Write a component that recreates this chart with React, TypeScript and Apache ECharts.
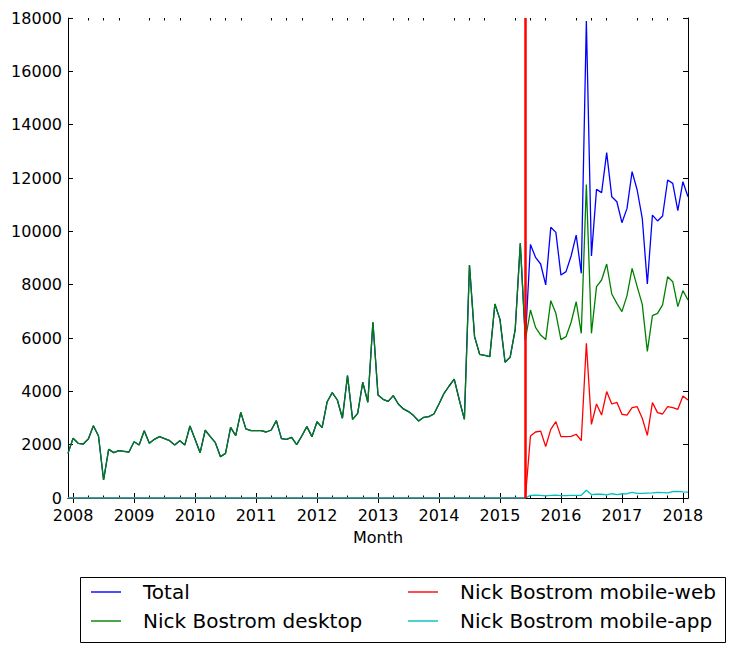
import React, { useEffect, useRef } from 'react';
import * as echarts from 'echarts';

// months from 2007-12 to 2018-02
const months: string[] = [];
for (let k = 0; k < 123; k++) {
  const t = 2007 * 12 + 11 + k;
  months.push(`${Math.floor(t / 12)}-${String((t % 12) + 1).padStart(2, '0')}`);
}

const yTicks = { min: 0, max: 18000, step: 2000 };
const mobileStart = '2015-06';

const totalViews = [
  1675, 2240, 2050, 2025, 2210, 2710, 2325, 675, 1825, 1700, 1775, 1750,
  1725, 2110, 1990, 2525, 2050, 2200, 2300, 2225, 2150, 1990, 2150, 1990,
  2700, 2200, 1700, 2540, 2300, 2075, 1550, 1675, 2650, 2340, 3210, 2590,
  2525, 2525, 2525, 2475, 2550, 2900, 2225, 2200, 2275, 2000, 2325, 2675,
  2300, 2860, 2640, 3610, 3950, 3675, 2990, 4590, 2950, 3175, 4340, 3590,
  6590, 3860, 3700, 3625, 3840, 3525, 3340, 3240, 3090, 2890, 3025, 3050,
  3150, 3525, 3925, 4200, 4460, 3675, 2950, 8740, 6050, 5390, 5350, 5300,
  7275, 6700, 5090, 5275, 6325, 9550, 5925, 9510, 9025, 8775, 7990, 10150,
  9960, 8360, 8490, 9075, 9860, 8425, 17890, 9075, 11575, 11450, 12950, 11300,
  11110, 10325, 10860, 12240, 11550, 10490, 8025, 10610, 10390, 10575, 11925, 11800,
  10775, 11860, 11300,
];

const desktopViews = [
  1675, 2240, 2050, 2025, 2210, 2710, 2325, 675, 1825, 1700, 1775, 1750,
  1725, 2110, 1990, 2525, 2050, 2200, 2300, 2225, 2150, 1990, 2150, 1990,
  2700, 2200, 1700, 2540, 2300, 2075, 1550, 1675, 2650, 2340, 3210, 2590,
  2525, 2525, 2525, 2475, 2550, 2900, 2225, 2200, 2275, 2000, 2325, 2675,
  2300, 2860, 2640, 3610, 3950, 3675, 2990, 4590, 2950, 3175, 4340, 3590,
  6590, 3860, 3700, 3625, 3840, 3525, 3340, 3240, 3090, 2890, 3025, 3050,
  3150, 3525, 3925, 4200, 4460, 3675, 2950, 8740, 6050, 5390, 5350, 5300,
  7275, 6700, 5090, 5275, 6325, 9550, 5925, 7050, 6400, 6110, 5940, 7400,
  6925, 5940, 6050, 6590, 7360, 6175, 11760, 6175, 7925, 8175, 8775, 7650,
  7300, 6990, 7590, 8610, 7925, 7260, 5500, 6840, 6925, 7240, 8300, 8110,
  7175, 7775, 7425,
];

const mobileWebViews = [
  0, 0, 0, 0, 0, 0, 0, 0, 0, 0, 0, 0,
  0, 0, 0, 0, 0, 0, 0, 0, 0, 0, 0, 0,
  0, 0, 0, 0, 0, 0, 0, 0, 0, 0, 0, 0,
  0, 0, 0, 0, 0, 0, 0, 0, 0, 0, 0, 0,
  0, 0, 0, 0, 0, 0, 0, 0, 0, 0, 0, 0,
  0, 0, 0, 0, 0, 0, 0, 0, 0, 0, 0, 0,
  0, 0, 0, 0, 0, 0, 0, 0, 0, 0, 0, 0,
  0, 0, 0, 0, 0, 0, 0, 2325, 2475, 2510, 1925, 2575,
  2865, 2300, 2300, 2310, 2390, 2150, 5800, 2760, 3525, 3110, 3990, 3525,
  3590, 3140, 3110, 3390, 3425, 2990, 2350, 3575, 3200, 3150, 3425, 3390,
  3325, 3825, 3675,
];

const mobileAppViews = [
  0, 0, 0, 0, 0, 0, 0, 0, 0, 0, 0, 0,
  0, 0, 0, 0, 0, 0, 0, 0, 0, 0, 0, 0,
  0, 0, 0, 0, 0, 0, 0, 0, 0, 0, 0, 0,
  0, 0, 0, 0, 0, 0, 0, 0, 0, 0, 0, 0,
  0, 0, 0, 0, 0, 0, 0, 0, 0, 0, 0, 0,
  0, 0, 0, 0, 0, 0, 0, 0, 0, 0, 0, 0,
  0, 0, 0, 0, 0, 0, 0, 0, 0, 0, 0, 0,
  0, 0, 0, 0, 0, 0, 0, 100, 110, 100, 80, 100,
  110, 90, 90, 100, 100, 100, 290, 130, 140, 140, 120, 160,
  130, 150, 160, 210, 170, 170, 180, 190, 210, 200, 190, 240,
  250, 230, 220,
];

const FONT = 'DejaVu Sans';
const isJan = (i: number) => months[i].endsWith('-01');
const isQuarter = (i: number) => /-(04|07|10)$/.test(months[i]);

const App = () => {
  const chartRef = useRef<HTMLDivElement>(null);

  useEffect(() => {
    document.body.style.margin = '0';
    if (!chartRef.current) return;
    const chart = echarts.init(chartRef.current, null, { renderer: 'svg' });

    const gridBox = { left: 68, top: 18, width: 620, height: 480 };
    const spine = { show: true, lineStyle: { color: '#000', width: 1 } };
    const noLabel = { show: false };
    const legendText = { color: '#000', fontFamily: FONT, fontSize: 20, lineHeight: 20, padding: [0, 0, 0, 17] };

    const option: echarts.EChartsOption = {
      animation: false,
      backgroundColor: '#fff',
      grid: [{ ...gridBox }, { ...gridBox }],
      xAxis: [
        {
          type: 'category', gridIndex: 0, position: 'bottom', data: months, boundaryGap: false,
          axisLine: spine,
          axisTick: { show: true, inside: true, length: 5, interval: (i: number) => isJan(i), lineStyle: { color: '#000' } },
          axisLabel: {
            interval: (i: number) => isJan(i), formatter: (v: string) => v.slice(0, 4),
            color: '#000', fontFamily: FONT, fontSize: 16, margin: 9,
          },
          splitLine: { show: false },
          name: 'Month', nameLocation: 'middle', nameGap: 31,
          nameTextStyle: { color: '#000', fontFamily: FONT, fontSize: 16 },
        },
        {
          type: 'category', gridIndex: 0, position: 'top', data: months, boundaryGap: false,
          axisLine: spine,
          axisTick: { show: true, inside: true, length: 5, interval: (i: number) => isJan(i), lineStyle: { color: '#000' } },
          axisLabel: noLabel, splitLine: { show: false },
        },
        {
          type: 'category', gridIndex: 1, position: 'bottom', data: months, boundaryGap: false,
          axisLine: { show: false },
          axisTick: { show: true, inside: true, length: 2.5, interval: (i: number) => isQuarter(i), lineStyle: { color: '#000' } },
          axisLabel: noLabel, splitLine: { show: false },
        },
        {
          type: 'category', gridIndex: 1, position: 'top', data: months, boundaryGap: false,
          axisLine: { show: false },
          axisTick: { show: true, inside: true, length: 2.5, interval: (i: number) => isQuarter(i), lineStyle: { color: '#000' } },
          axisLabel: noLabel, splitLine: { show: false },
        },
      ],
      yAxis: [
        {
          type: 'value', gridIndex: 0, position: 'left',
          min: yTicks.min, max: yTicks.max, interval: yTicks.step,
          axisLine: spine,
          axisTick: { show: true, inside: true, length: 5, lineStyle: { color: '#000' } },
          axisLabel: { color: '#000', fontFamily: FONT, fontSize: 16, margin: 6, formatter: (v: number) => String(v) },
          splitLine: { show: false },
        },
        {
          type: 'value', gridIndex: 0, position: 'right',
          min: yTicks.min, max: yTicks.max, interval: yTicks.step,
          axisLine: spine,
          axisTick: { show: true, inside: true, length: 5, lineStyle: { color: '#000' } },
          axisLabel: noLabel, splitLine: { show: false },
        },
        { type: 'value', gridIndex: 1, show: false, min: 0, max: 1 },
      ],
      legend: [
        {
          orient: 'vertical', left: 91, top: 582, padding: 0, itemGap: 9, itemWidth: 30, itemHeight: 1.4, icon: 'rect',
          data: ['Total', 'Nick Bostrom desktop'],
          textStyle: legendText,
        },
        {
          orient: 'vertical', left: 408, top: 582, padding: 0, itemGap: 9, itemWidth: 30, itemHeight: 1.4, icon: 'rect',
          data: ['Nick Bostrom mobile-web', 'Nick Bostrom mobile-app'],
          textStyle: legendText,
        },
      ],
      graphic: [
        {
          type: 'rect', left: 78, top: 575, z: 0,
          shape: { width: 645, height: 65 },
          style: { fill: 'none', stroke: '#000', lineWidth: 1 },
        },
      ],
      series: [
        {
          name: 'Total', type: 'line', xAxisIndex: 0, yAxisIndex: 0, data: totalViews,
          showSymbol: false, symbol: 'none', color: '#0000ff', lineStyle: { width: 1.3 },
        },
        {
          name: 'Nick Bostrom desktop', type: 'line', xAxisIndex: 0, yAxisIndex: 0, data: desktopViews,
          showSymbol: false, symbol: 'none', color: '#008000', lineStyle: { width: 1.3 },
        },
        {
          name: 'Nick Bostrom mobile-web', type: 'line', xAxisIndex: 0, yAxisIndex: 0, data: mobileWebViews,
          showSymbol: false, symbol: 'none', color: '#ff0000', lineStyle: { width: 1.3 },
          markLine: {
            silent: true, symbol: 'none', label: { show: false },
            lineStyle: { color: '#ff0000', width: 2.5, type: 'solid' },
            data: [{ xAxis: mobileStart }],
          },
        },
        {
          name: 'Nick Bostrom mobile-app', type: 'line', xAxisIndex: 0, yAxisIndex: 0, data: mobileAppViews,
          showSymbol: false, symbol: 'none', color: '#00bfbf', lineStyle: { width: 1.3 },
        },
      ],
    };

    chart.setOption(option);

    return () => {
      chart.dispose();
    };
  }, []);

  return <div ref={chartRef} style={{ width: 733, height: 650 }}></div>;
};

export default App;
